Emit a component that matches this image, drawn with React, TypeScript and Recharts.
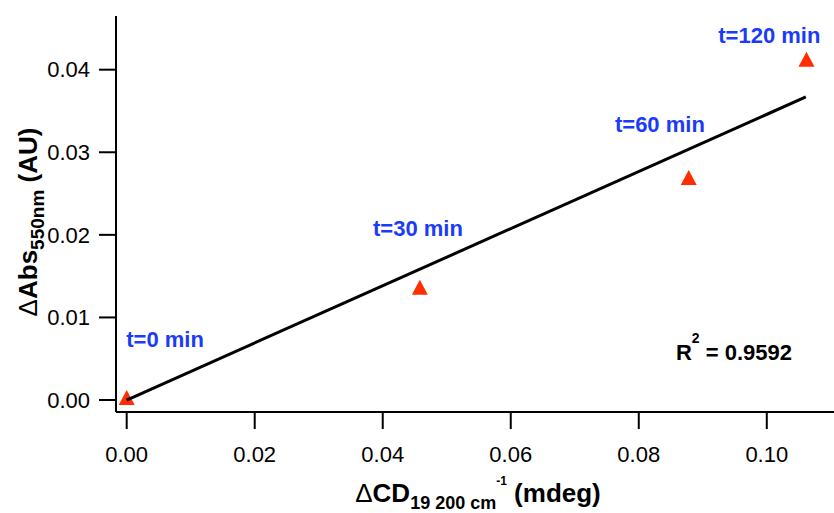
import { ScatterChart, Scatter, XAxis, YAxis } from 'recharts';

// ΔCD (mdeg) vs ΔAbs550 (AU)
const cdValues = [0, 0.0458, 0.0878, 0.1062];
const absValues = [0, 0.01335, 0.02663, 0.04096];

// time labels and where they sit (data coords)
const timeLabels = ['t=0 min', 't=30 min', 't=60 min', 't=120 min'];
const labelCd = [0.006, 0.0455, 0.0833, 0.1004];
const labelAbs = [0.0074, 0.0208, 0.0334, 0.0442];

// linear fit endpoints
const fitCd = [0, 0.1061];
const fitAbs = [0, 0.0367];

const xTicks = [0, 0.02, 0.04, 0.06, 0.08, 0.1];
const yTicks = [0, 0.01, 0.02, 0.03, 0.04];
const xDomain: [number, number] = [-0.00167, 0.1105];
const yDomain: [number, number] = [-0.00145, 0.0465];

const r2Text = '0.9592';
const r2Cd = [0.0858];
const r2Abs = [0.0048];

const FONT = '"Liberation Sans", Arial, Helvetica, sans-serif';
const BLUE = '#1a3cf8';
const RED = '#ff2d00';

const points = cdValues.map((x, i) => ({ x, y: absValues[i] }));
const labels = timeLabels.map((text, i) => ({ x: labelCd[i], y: labelAbs[i], text }));
const fitData = fitCd.map((x, i) => ({ x, y: fitAbs[i] }));
const r2Data = r2Cd.map((x, i) => ({ x, y: r2Abs[i], text: r2Text }));

const Triangle = (p: any) => (
  <path d={`M${p.cx},${p.cy - 10}L${p.cx + 8},${p.cy + 5}L${p.cx - 8},${p.cy + 5}Z`} fill={RED} />
);

const TimeLabel = (p: any) => (
  <text x={p.cx} y={p.cy} dy="0.35em" textAnchor="middle" fill={BLUE}
    fontFamily={FONT} fontWeight={700} fontSize={22}>
    {p.payload.text}
  </text>
);

const R2Label = (p: any) => (
  <text x={p.cx} y={p.cy} fill="#000" fontFamily={FONT} fontWeight={700} fontSize={22}>
    <tspan>R</tspan>
    <tspan dy={-17} fontSize={14}>2</tspan>
    <tspan dy={17} fontSize={22}>{` = ${p.payload.text}`}</tspan>
  </text>
);

const YTitle = (p: any) => {
  const vb = p.viewBox || { x: 0, y: 16, width: 116, height: 396 };
  const cx = vb.x + 37;
  const cy = vb.y + vb.height / 2 + 8;
  return (
    <text transform={`translate(${cx},${cy}) rotate(-90)`} x={0} y={0} textAnchor="middle"
      fill="#000" fontFamily={FONT} fontWeight={700} fontSize={26}>
      <tspan fontWeight={400}>Δ</tspan>
      <tspan>Abs</tspan>
      <tspan dy={7} fontSize={19}>550nm</tspan>
      <tspan dy={-7} fontSize={26}> (AU)</tspan>
    </text>
  );
};

const XTitle = (p: any) => {
  const vb = p.viewBox || { x: 116, y: 412, width: 718, height: 101 };
  const cx = vb.x + vb.width / 2 + 3;
  const by = vb.y + 90;
  return (
    <text x={cx} y={by} textAnchor="middle" fill="#000" fontFamily={FONT} fontWeight={700} fontSize={26}>
      <tspan fontWeight={400}>Δ</tspan>
      <tspan>CD</tspan>
      <tspan dy={7} fontSize={18}>19 200 cm</tspan>
      <tspan dy={-24} fontSize={12}>-1</tspan>
      <tspan dy={17} fontSize={26}> (mdeg)</tspan>
    </text>
  );
};

const tickStyle = { fill: '#000', fontSize: 22, fontFamily: FONT };
const lineStyle = { stroke: '#000', strokeWidth: 2 };

export default function App() {
  return (
    <div style={{ width: 834, height: 513, background: '#fff' }}>
      <style>{'body{margin:0}'}</style>
      <ScatterChart width={834} height={513} margin={{ top: 16, right: 0, bottom: 0, left: 0 }}>
        <XAxis
          dataKey="x"
          type="number"
          domain={xDomain}
          allowDataOverflow
          ticks={xTicks}
          tickFormatter={(v: number) => v.toFixed(2)}
          tick={tickStyle}
          tickSize={17}
          tickMargin={17}
          tickLine={lineStyle}
          axisLine={lineStyle}
          height={101}
          label={{ content: (p: any) => <XTitle {...p} /> }}
        />
        <XAxis
          xAxisId="top"
          orientation="top"
          type="number"
          domain={xDomain}
          tick={false}
          tickLine={false}
          height={0}
          axisLine={lineStyle}
        />
        <YAxis
          dataKey="y"
          type="number"
          domain={yDomain}
          allowDataOverflow
          ticks={yTicks}
          tickFormatter={(v: number) => v.toFixed(2)}
          tick={tickStyle}
          tickSize={17}
          tickMargin={9}
          tickLine={lineStyle}
          axisLine={lineStyle}
          width={116}
          label={{ content: (p: any) => <YTitle {...p} /> }}
        />
        <Scatter data={points} shape={Triangle} isAnimationActive={false} />
        <Scatter
          data={fitData}
          line={{ stroke: '#000', strokeWidth: 3 }}
          shape={() => <g />}
          isAnimationActive={false}
        />
        <Scatter data={labels} shape={TimeLabel} isAnimationActive={false} />
        <Scatter data={r2Data} shape={R2Label} isAnimationActive={false} />
      </ScatterChart>
    </div>
  );
}
